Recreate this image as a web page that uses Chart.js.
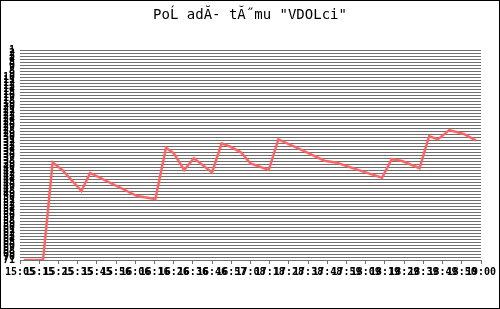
<!DOCTYPE html>
<html>
<head>
<meta charset="utf-8">
<script src="https://cdn.jsdelivr.net/npm/chart.js@4"></script>
<style>
  body { margin: 0; background: #fff; }
  #wrap { width: 500px; height: 309px; }
</style>
</head>
<body>
<div id="wrap"><canvas id="Poradi"></canvas></div>
<script>
// tick labels on the time axis (one per tick, they overlap like in the original)
const casy = ['15:05','15:15','15:25','15:35','15:45','15:56','16:06','16:16','16:26','16:36',
  '16:46','16:57','17:08','17:18','17:28','17:38','17:48','17:59','18:09','18:19',
  '18:29','18:39','18:49','18:50','19:00'];

// position of each measurement, in units of the time ticks
const cas = [0.2, 1.2, 1.7, 2.2, 3.2, 3.65, 6.1, 7.05, 7.6, 8.0, 8.55, 9.05, 10.0, 10.5,
  10.95, 11.5, 12.0, 12.95, 13.45, 14.6, 15.85, 16.5, 17.75, 18.85, 19.35, 19.9, 20.8,
  21.3, 21.75, 22.35, 23.1, 23.75];

// team rank
const poradi = [71, 71, 38.5, 41, 48, 42, 49.7, 50.7, 33.6, 35.4, 41, 37.1, 41.8, 32.1,
  33.2, 35.1, 38.8, 41, 30.8, 34.1, 37.9, 38.6, 41.3, 43.6, 37.4, 38, 40.4,
  29.7, 30.8, 27.7, 29, 31.2];

const nazev = 'PoĹ adĂ- tĂ˝mu "VDOLci"';
const minPoradi = 1;
const maxPoradi = 71;

const body = cas.map((c, i) => ({ x: c, y: poradi[i] }));

const ramecek = {
  id: 'ramecek',
  beforeDraw(chart) {
    const c = chart.ctx;
    c.save();
    c.fillStyle = '#fff';
    c.fillRect(0, 0, chart.width, chart.height);
    c.restore();
  },
  afterDraw(chart) {
    const c = chart.ctx;
    c.save();
    c.strokeStyle = '#000';
    c.lineWidth = 1;
    c.strokeRect(0.5, 0.5, chart.width - 1, chart.height - 1);
    c.fillStyle = '#000';
    c.font = '14px "DejaVu Sans Mono"';
    c.textAlign = 'center';
    c.textBaseline = 'middle';
    c.fillText(nazev, 250, 15);
    c.restore();
  }
};

new Chart(document.getElementById('Poradi'), {
  type: 'line',
  data: {
    datasets: [{
      data: body,
      borderColor: '#ff6464',
      borderWidth: 2.5,
      pointRadius: 0,
      tension: 0
    }]
  },
  options: {
    responsive: true,
    maintainAspectRatio: false,
    animation: false,
    layout: { padding: { top: 50, left: 0, right: 19, bottom: 0 } },
    plugins: { legend: { display: false }, tooltip: { enabled: false } },
    scales: {
      x: {
        type: 'linear',
        min: 0,
        max: casy.length - 1,
        afterFit(s) { s.height = 49; },
        grid: { drawOnChartArea: false, drawTicks: true, tickLength: 4, color: '#707070' },
        border: { display: false },
        ticks: {
          stepSize: 1,
          autoSkip: false,
          maxRotation: 0,
          padding: 2,
          color: '#000',
          font: { family: 'DejaVu Sans Mono', size: 10, weight: 'bold' },
          callback: v => casy[v]
        }
      },
      y: {
        type: 'linear',
        reverse: true,
        min: minPoradi,
        max: maxPoradi,
        afterFit(s) { s.width = 20; },
        grid: { color: '#707070', drawTicks: false },
        border: { display: false },
        ticks: {
          stepSize: 1,
          autoSkip: false,
          padding: 5,
          color: '#000',
          font: { family: 'DejaVu Sans Mono', size: 10, weight: 'bold' }
        }
      }
    }
  },
  plugins: [ramecek]
});
</script>
</body>
</html>
